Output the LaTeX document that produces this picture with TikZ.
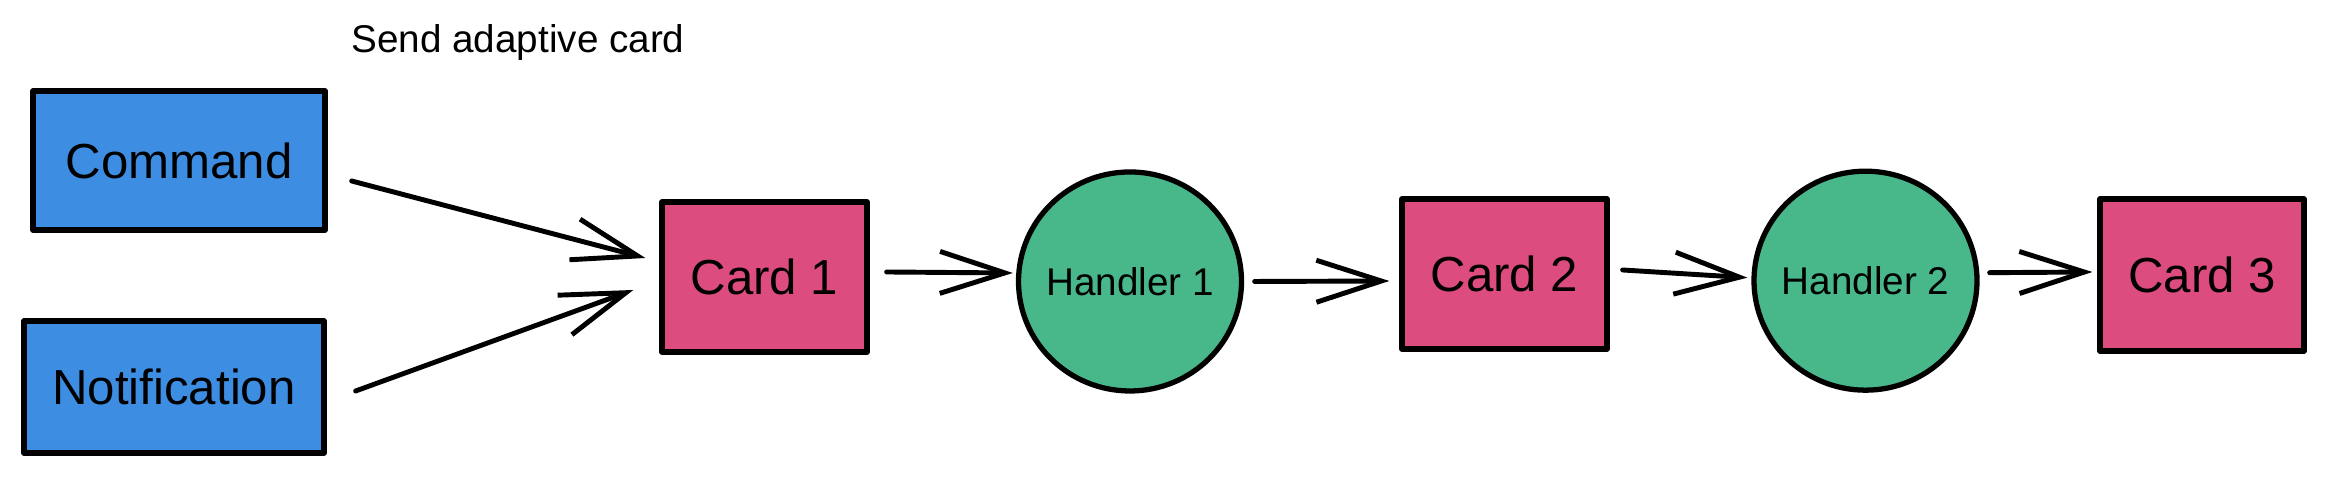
\documentclass[tikz,border=0pt]{standalone}
\usepackage{fontspec}
\setmainfont{Liberation Sans}
\usetikzlibrary{arrows.meta,shapes.geometric}
\definecolor{srcblue}{RGB}{61,142,227}
\definecolor{cardpink}{RGB}{220,76,127}
\definecolor{handgreen}{RGB}{72,183,138}
\tikzset{
  srcbox/.style={draw, line width=1.5pt, fill=srcblue, font=\fontsize{14}{16}\selectfont},
  cardbox/.style={draw, line width=1.5pt, fill=cardpink, minimum width=2.05cm, minimum height=1.5cm, font=\fontsize{14}{16}\selectfont},
  handler/.style={draw, ellipse, line width=1.5pt, fill=handgreen, minimum width=2.23cm, minimum height=2.19cm, inner xsep=-3pt, inner ysep=0pt, font=\fontsize{11}{13}\selectfont},
  link/.style={line width=1.4pt, line cap=round, -{Straight Barb[length=6.5mm, width=4.2mm, line width=1.4pt]}}
}
\begin{document}
\begin{tikzpicture}[line join=round, line cap=round]
			\useasboundingbox (0,0) rectangle (23.29,4.92);
			\node[font=\fontsize{11}{13}\selectfont] (title) at (5.18,4.49) {Send adaptive card};
			\node[srcbox, minimum width=2.92cm, minimum height=1.39cm] (cmd) at (1.79,3.315) {Command};
			\node[srcbox, minimum width=3.0cm, minimum height=1.32cm] (notif) at (1.74,1.05) {Notification};
			\node[cardbox] (card1) at (7.645,2.15) {Card 1};
			\node[handler] (h1) at (11.30,2.105) {Handler 1};
			\node[cardbox] (card2) at (15.045,2.18) {Card 2};
			\node[handler] (h2) at (18.655,2.113) {Handler 2};
			\node[cardbox, minimum width=2.04cm, minimum height=1.52cm] (card3) at (22.02,2.17) {Card 3};
			\draw[link] ([shift={(0.24,-0.205)}]cmd.east) -- ([shift={(-0.14,0.19)}]card1.west);
			\draw[link] ([shift={(0.29,-0.04)}]notif.east) -- ([shift={(-0.26,-0.13)}]card1.west);
			\draw[link] ([shift={(0.17,0.05)}]card1.east) -- ([shift={(-0.03,0.085)}]h1.west);
			\draw[link] ([shift={(0.105,0)}]h1.east) -- ([shift={(-0.1,-0.07)}]card2.west);
			\draw[link] ([shift={(0.13,0.04)}]card2.east) -- ([shift={(-0.04,0.03)}]h2.west);
			\draw[link] ([shift={(0.1,0.08)}]h2.east) -- ([shift={(-0.05,0.03)}]card3.west);
		\end{tikzpicture}
\end{document}
